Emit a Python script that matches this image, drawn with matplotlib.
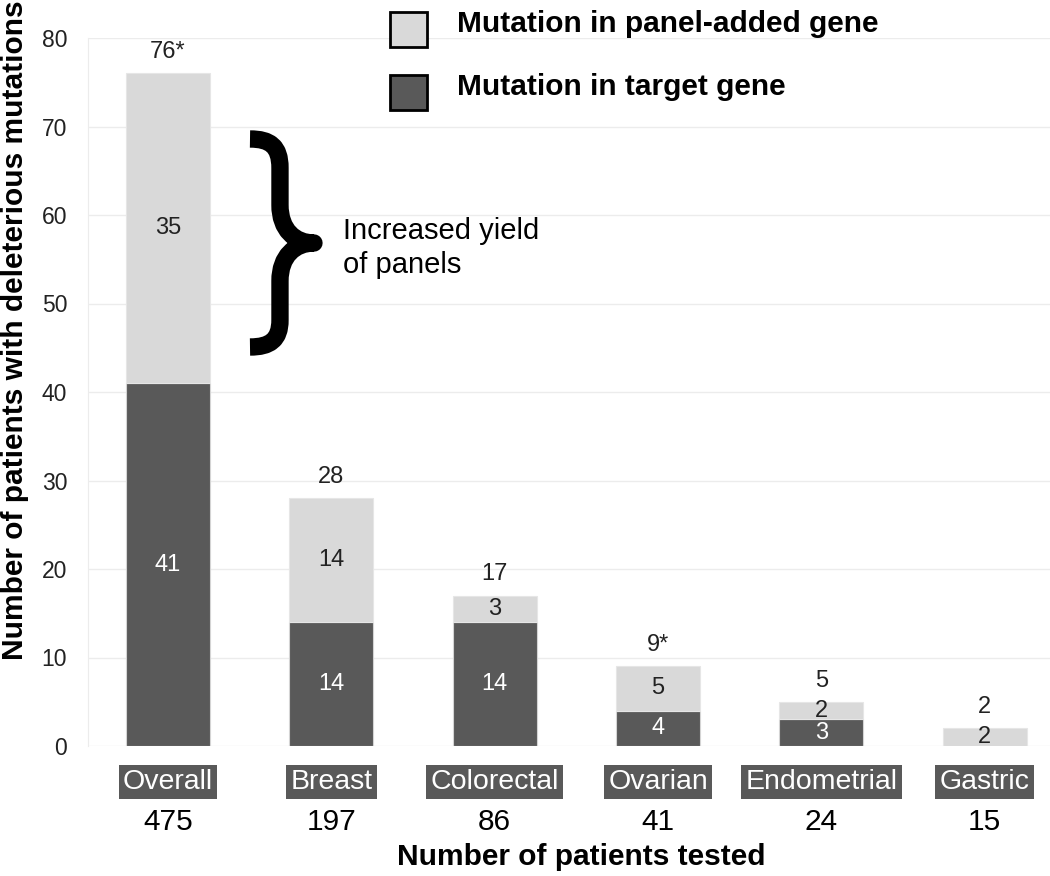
import numpy as np
import matplotlib
matplotlib.use("Agg")
import matplotlib.pyplot as plt
from matplotlib.patches import Rectangle, PathPatch
from matplotlib.path import Path

plt.rcParams['font.family'] = ['Liberation Sans', 'DejaVu Sans']

categories = ["Overall", "Breast", "Colorectal", "Ovarian", "Endometrial", "Gastric"]
n_tested = [475, 197, 86, 41, 24, 15]
target_gene = [41, 14, 14, 4, 3, 0]
panel_added = [35, 14, 3, 5, 2, 2]
total_labels = ["76*", "28", "17", "9*", "5", "2"]

dark = "#595959"
light = "#d9d9d9"

W, H = 1050, 876
fig = plt.figure(figsize=(W / 100, H / 100), dpi=100)
ax = fig.add_axes([88 / W, 1 - 746 / H, 1 - 88 / W, (746 - 38) / H])

x = np.arange(len(categories))
bw = 0.514
ax.bar(x, target_gene, width=bw, color=dark, edgecolor="#d4d4d4", linewidth=0.8, zorder=3)
ax.bar(x, panel_added, width=bw, bottom=target_gene, color=light, edgecolor="#e6e6e6",
       linewidth=0.8, zorder=3)

ax.set_xlim(-0.49, 5.40)
ax.set_ylim(0, 80)
ax.set_yticks(np.arange(0, 81, 10))
ax.set_xticks([])
ax.tick_params(axis="y", length=0, pad=15, labelsize=16.5, labelcolor="#222222")
ax.grid(axis="y", color="#ececec", linewidth=1, zorder=0)
for s in ["top", "right", "bottom"]:
    ax.spines[s].set_visible(False)
ax.spines["left"].set_color("#ececec")

# segment labels
for i in range(len(categories)):
    if target_gene[i] > 0:
        ax.text(x[i], target_gene[i] / 2, str(target_gene[i]), ha="center", va="center",
                fontsize=17, color="white", zorder=4)
    if panel_added[i] > 0:
        ax.text(x[i], target_gene[i] + panel_added[i] / 2, str(panel_added[i]), ha="center",
                va="center", fontsize=17, color="#222222", zorder=4)
    top = target_gene[i] + panel_added[i]
    ax.text(x[i], top + 2.4, total_labels[i], ha="center", va="center", fontsize=17,
            color="#222222", zorder=4)

# category boxes and counts under the axis
xt = ax.get_xaxis_transform()
for i, c in enumerate(categories):
    ax.text(x[i], -0.0508, c, transform=xt, ha="center", va="center", fontsize=20.5,
            color="white", clip_on=False,
            bbox=dict(boxstyle="square,pad=0.15", facecolor=dark, edgecolor="none"))
    ax.text(x[i], -0.107, str(n_tested[i]), transform=xt, ha="center", va="center",
            fontsize=21.5, color="black", clip_on=False)

fig.text(581 / W, 1 - 857 / H, "Number of patients tested", ha="center", va="center",
         fontsize=21.5, fontweight="bold")
fig.text(15 / W, 1 - 330 / H, "Number of patients with deleterious mutations", ha="center",
         va="center", rotation=90, fontsize=21.5, fontweight="bold")

# brace annotation
def px(px_x, px_y):
    return ((px_x - 168) / 163.4, (746 - px_y) / 8.85)

brace_px = [(250, 139), (270, 139), (280, 146), (280, 168), (280, 205),
            (280, 230), (295, 243), (314, 243),
            (295, 243), (280, 256), (280, 281), (280, 320),
            (280, 340), (270, 347), (250, 347)]
codes = [Path.MOVETO, Path.CURVE4, Path.CURVE4, Path.CURVE4, Path.LINETO,
         Path.CURVE4, Path.CURVE4, Path.CURVE4,
         Path.CURVE4, Path.CURVE4, Path.CURVE4, Path.LINETO,
         Path.CURVE4, Path.CURVE4, Path.CURVE4]
brace = Path([px(a, b) for a, b in brace_px], codes)
ax.add_patch(PathPatch(brace, facecolor="none", edgecolor="black", linewidth=12.5,
                       capstyle="butt", joinstyle="round", zorder=5, clip_on=False))
ax.text(*px(343, 248), "Increased yield\nof panels", ha="left", va="center", fontsize=21,
        linespacing=1.25, color="black")

# legend
legend_items = [("Mutation in panel-added gene", light), ("Mutation in target gene", dark)]
for k, (lab, col) in enumerate(legend_items):
    y0 = 12 + 63 * k
    fig.patches.append(Rectangle((390 / W, 1 - (y0 + 35) / H), 37 / W, 35 / H,
                                 transform=fig.transFigure, facecolor=col,
                                 edgecolor="black", linewidth=2))
    fig.text(457 / W, 1 - (y0 + 20) / H, lab, ha="left", va="baseline", fontsize=21.5,
             fontweight="bold")

fig.savefig("out.png", dpi=100)
